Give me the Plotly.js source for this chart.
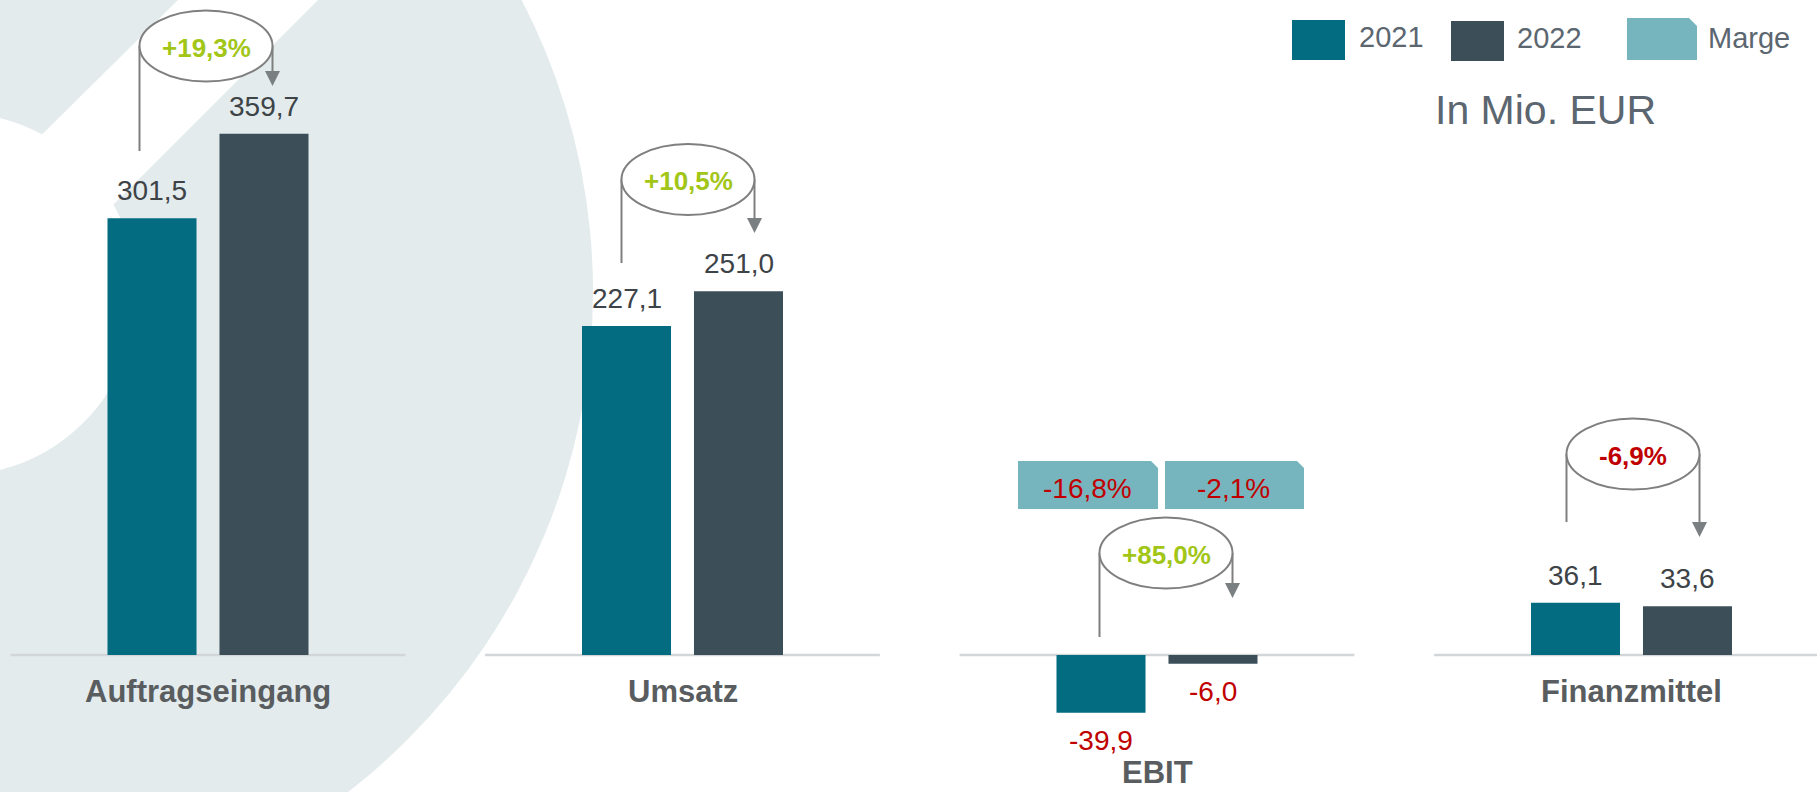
<!DOCTYPE html>
<html>
<head>
<meta charset="utf-8">
<script src="https://cdn.plot.ly/plotly-3.0.1.min.js"></script>
<style>
html,body{margin:0;padding:0;background:#fff;}
#chart{width:1817px;height:792px;}
</style>
</head>
<body>
<div id="chart"></div>
<script>
// ---- data ----
const categories = ['Auftragseingang', 'Umsatz', 'EBIT', 'Finanzmittel'];
const values2021 = [301.5, 227.1, -39.9, 36.1];
const values2022 = [359.7, 251.0, -6.0, 33.6];
const changeLabels = ['+19,3%', '+10,5%', '+85,0%', '-6,9%'];
const margeLabels = ['-16,8%', '-2,1%'];
const seriesNames = ['2021', '2022', 'Marge'];
const unitLabel = 'In Mio. EUR';

// ---- styling / layout config ----
const W = 1817, H = 792;
const X = p => p / W;
const Y = p => 1 - p / H;
const C2021 = '#036c80', C2022 = '#3c4f59', CMARGE = '#76b5be';
const BG_LIGHT = '#e3ebed';
const GREEN = '#a2c617', RED = '#c00000';
const FONT = 'Liberation Sans, Arial, sans-serif';

// change badge placement (pixels)
const badgePos = [
  {cx: 206, cy: 46, leftEnd: 151, tip: 86},
  {cx: 688, cy: 179.5, leftEnd: 263, tip: 233},
  {cx: 1166, cy: 553, leftEnd: 637, tip: 598},
  {cx: 1633, cy: 454, leftEnd: 522, tip: 537}
];
const RX = 66.5, RY = 35.5;
// marge boxes placement (pixels)
const margeBoxes = [
  {x0: 1018, x1: 1158, y0: 461, y1: 509},
  {x0: 1165, x1: 1304, y0: 461, y1: 509}
];

const fmt = v => v.toFixed(1).replace('.', ',');

const traces = [
  {type: 'bar', name: seriesNames[0], x: categories, y: values2021,
   marker: {color: C2021}, hoverinfo: 'none'},
  {type: 'bar', name: seriesNames[1], x: categories, y: values2022,
   marker: {color: C2022}, hoverinfo: 'none'}
];

const shapes = [];
// background decoration (big light ring with white inner disc and slit)
const bgC = {cx: -40, cy: 292, R: 633};
shapes.push({type: 'circle', xref: 'paper', yref: 'paper', layer: 'below',
  x0: X(bgC.cx - bgC.R), x1: X(bgC.cx + bgC.R), y0: Y(bgC.cy + bgC.R), y1: Y(bgC.cy - bgC.R),
  fillcolor: BG_LIGHT, line: {width: 0}});
const inC = {cx: -44.5, cy: 294, r: 181.5};
shapes.push({type: 'circle', xref: 'paper', yref: 'paper', layer: 'below',
  x0: X(inC.cx - inC.r), x1: X(inC.cx + inC.r), y0: Y(inC.cy + inC.r), y1: Y(inC.cy - inC.r),
  fillcolor: '#ffffff', line: {width: 0}});
const band = [[180, -2], [320, -2], [60, 258], [-80, 255]];
shapes.push({type: 'path', xref: 'paper', yref: 'paper', layer: 'below',
  path: 'M' + band.map(p => X(p[0]) + ',' + Y(p[1])).join(' L') + ' Z',
  fillcolor: '#ffffff', line: {width: 0}});

// baselines per category
categories.forEach((c, i) => {
  shapes.push({type: 'line', xref: 'x', yref: 'y', layer: 'below',
    x0: i - 0.416, x1: i + 0.416, y0: 0, y1: 0,
    line: {color: '#d3d6d8', width: 2.5}});
});

// change badges
const GRAY = '#7f7f7f';
badgePos.forEach(b => {
  shapes.push({type: 'line', xref: 'paper', yref: 'paper',
    x0: X(b.cx - RX), x1: X(b.cx - RX), y0: Y(b.cy), y1: Y(b.leftEnd),
    line: {color: GRAY, width: 2}});
  shapes.push({type: 'line', xref: 'paper', yref: 'paper',
    x0: X(b.cx + RX), x1: X(b.cx + RX), y0: Y(b.cy), y1: Y(b.tip - 14),
    line: {color: GRAY, width: 2}});
  const ax = b.cx + RX;
  shapes.push({type: 'path', xref: 'paper', yref: 'paper',
    path: `M${X(ax - 7.5)},${Y(b.tip - 15)} L${X(ax + 7.5)},${Y(b.tip - 15)} L${X(ax)},${Y(b.tip)} Z`,
    fillcolor: '#7a7f82', line: {width: 0}});
  shapes.push({type: 'circle', xref: 'paper', yref: 'paper',
    x0: X(b.cx - RX), x1: X(b.cx + RX), y0: Y(b.cy + RY), y1: Y(b.cy - RY),
    fillcolor: '#ffffff', line: {color: GRAY, width: 2}});
});

// snipped rectangle helper
function snipRect(x0, x1, y0, y1, s, color) {
  return {type: 'path', xref: 'paper', yref: 'paper',
    path: `M${X(x0)},${Y(y0)} L${X(x1 - s)},${Y(y0)} L${X(x1)},${Y(y0 + s)} L${X(x1)},${Y(y1)} L${X(x0)},${Y(y1)} Z`,
    fillcolor: color, line: {width: 0}};
}
margeBoxes.forEach(m => shapes.push(snipRect(m.x0, m.x1, m.y0, m.y1, 7, CMARGE)));

// legend swatches
shapes.push({type: 'rect', xref: 'paper', yref: 'paper',
  x0: X(1292), x1: X(1345), y0: Y(60), y1: Y(20), fillcolor: C2021, line: {width: 0}});
shapes.push({type: 'rect', xref: 'paper', yref: 'paper',
  x0: X(1451), x1: X(1504), y0: Y(61), y1: Y(21), fillcolor: C2022, line: {width: 0}});
shapes.push(snipRect(1627, 1697, 18, 60, 8, CMARGE));

const annotations = [];
// value labels
const OFFSET_PX = 56;
[values2021, values2022].forEach((vals, s) => {
  vals.forEach((v, i) => {
    annotations.push({xref: 'x', yref: 'y', x: categories[i], y: v,
      xshift: s === 0 ? -OFFSET_PX : OFFSET_PX,
      yshift: v >= 0 ? 27.5 : -28,
      yanchor: 'middle', xanchor: 'center', showarrow: false,
      text: fmt(v),
      font: {family: FONT, size: 28, color: v >= 0 ? '#3d4347' : RED}});
  });
});
// category labels
categories.forEach((c, i) => {
  annotations.push({xref: 'x', yref: 'paper', x: c, y: Y(c === 'EBIT' ? 772 : 691),
    xanchor: 'center', yanchor: 'middle', showarrow: false,
    text: '<b>' + c + '</b>',
    font: {family: FONT, size: 31, color: '#595d60'}});
});
// change labels
changeLabels.forEach((t, i) => {
  const b = badgePos[i];
  annotations.push({xref: 'paper', yref: 'paper', x: X(b.cx), y: Y(b.cy + 1.5),
    xanchor: 'center', yanchor: 'middle', showarrow: false,
    text: '<b>' + t + '</b>',
    font: {family: FONT, size: 26, color: t.startsWith('-') ? RED : GREEN}});
});
// marge labels
margeLabels.forEach((t, i) => {
  const m = margeBoxes[i];
  annotations.push({xref: 'paper', yref: 'paper', x: X((m.x0 + m.x1) / 2 - 1), y: Y((m.y0 + m.y1) / 2 + 3),
    xanchor: 'center', yanchor: 'middle', showarrow: false,
    text: t, font: {family: FONT, size: 28, color: RED}});
});
// legend texts
const LEG = '#5b6670';
[[seriesNames[0], 1357, 37], [seriesNames[1], 1515, 37.5], [seriesNames[2], 1706, 38]].forEach(l => {
  annotations.push({xref: 'paper', yref: 'paper', x: X(l[1]), y: Y(l[2]),
    xanchor: 'left', yanchor: 'middle', showarrow: false,
    text: l[0], font: {family: FONT, size: 29, color: LEG}});
});
annotations.push({xref: 'paper', yref: 'paper', x: X(1545), y: Y(110),
  xanchor: 'center', yanchor: 'middle', showarrow: false,
  text: unitLabel, font: {family: FONT, size: 41, color: LEG}});

const PXU = 474.5; // px per category
const layout = {
  width: W, height: H,
  margin: {l: 0, r: 0, t: 0, b: 0, pad: 0},
  paper_bgcolor: '#ffffff',
  plot_bgcolor: 'rgba(0,0,0,0)',
  showlegend: false,
  barmode: 'group',
  bargap: 0.528,
  bargroupgap: 0.205,
  xaxis: {type: 'category', range: [-208 / PXU, -208 / PXU + W / PXU],
    showgrid: false, zeroline: false, showticklabels: false, showline: false, ticks: ''},
  yaxis: {range: [-137 / 1.449, 655 / 1.449],
    showgrid: false, zeroline: false, showticklabels: false, showline: false, ticks: ''},
  shapes: shapes,
  annotations: annotations,
  font: {family: FONT}
};

Plotly.newPlot('chart', traces, layout, {displayModeBar: false, staticPlot: true});
</script>
</body>
</html>
